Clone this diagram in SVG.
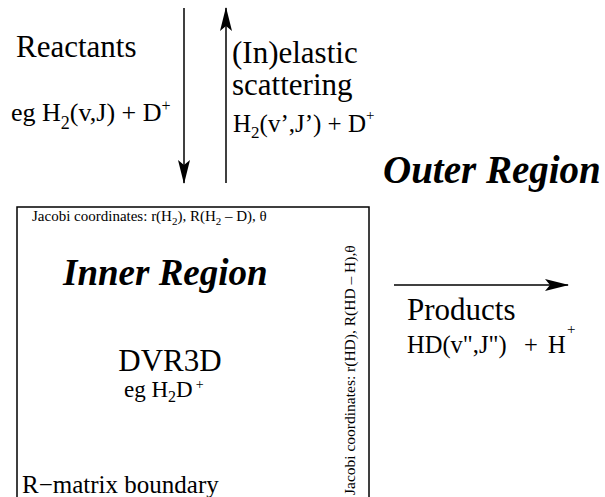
<svg xmlns="http://www.w3.org/2000/svg" width="605" height="497" viewBox="0 0 605 497">
<defs>
<marker id="ah" viewBox="0 0 24 12" markerWidth="24" markerHeight="12" refX="23" refY="6" orient="auto" markerUnits="userSpaceOnUse">
<path d="M0,0 L24,6 L0,12 L5,6 z" fill="#000"/>
</marker>
</defs>
<rect width="605" height="497" fill="#fff"/>
<g id="connectors" stroke="#000" stroke-width="1.5" fill="none">
<line x1="184" y1="8" x2="184" y2="183" marker-end="url(#ah)"/>
<line x1="226" y1="183" x2="226" y2="8" marker-end="url(#ah)"/>
<line x1="394" y1="285" x2="568" y2="285" marker-end="url(#ah)"/>
</g>
<g id="reactants">
<text x="16" y="57" font-size="31" font-family="Liberation Serif">Reactants</text>
<text x="11" y="121" font-size="26" font-family="Liberation Serif">eg H<tspan font-size="18" dy="8">2</tspan><tspan dy="-8">(v,J) + D</tspan><tspan font-size="16" dy="-10">+</tspan></text>
</g>
<g id="scattering">
<text x="232" y="63" font-size="31" font-family="Liberation Serif">(In)elastic</text>
<text x="232" y="95" font-size="31" font-family="Liberation Serif">scattering</text>
<text x="233" y="132" font-size="25" font-family="Liberation Serif">H<tspan font-size="17" dy="6">2</tspan><tspan dy="-6">(v’,J’) + D</tspan><tspan font-size="15" dy="-12">+</tspan></text>
</g>
<g id="outer-region">
<text x="383" y="183" font-size="39" font-weight="bold" font-style="italic" font-family="Liberation Serif">Outer Region</text>
</g>
<g id="inner-region">
<rect x="17" y="207" width="352" height="300" stroke="#000" stroke-width="1.5" fill="none"/>
<text x="32" y="221" font-size="15" font-family="Liberation Serif">Jacobi coordinates: r(H<tspan font-size="11" dy="4">2</tspan><tspan dy="-4">), R(H</tspan><tspan font-size="11" dy="4">2</tspan><tspan dy="-4"> – D), θ</tspan></text>
<text x="63" y="285" font-size="37" font-weight="bold" font-style="italic" font-family="Liberation Serif">Inner Region</text>
<text x="170" y="371" font-size="31" text-anchor="middle" font-family="Liberation Serif">DVR3D</text>
<text x="124" y="397" font-size="23" font-family="Liberation Serif">eg H<tspan font-size="16" dy="5">2</tspan><tspan dy="-5">D</tspan><tspan font-size="14" dy="-8" dx="3">+</tspan></text>
<text x="22" y="493" font-size="25" font-family="Liberation Serif">R−matrix boundary</text>
<text transform="translate(355,495) rotate(-90)" font-size="15.5" font-family="Liberation Serif">Jacobi coordinates: r(HD), R(HD – H),θ</text>
</g>
<g id="products">
<text x="407" y="320" font-size="31" font-family="Liberation Serif">Products</text>
<text x="407" y="353" font-size="24.5" font-family="Liberation Serif">HD(v",J")</text>
<text x="524" y="353" font-size="24.5" font-family="Liberation Serif">+</text>
<text x="548" y="353" font-size="24.5" font-family="Liberation Serif">H</text>
<text x="567" y="334" font-size="15" font-family="Liberation Serif">+</text>
</g>
</svg>
